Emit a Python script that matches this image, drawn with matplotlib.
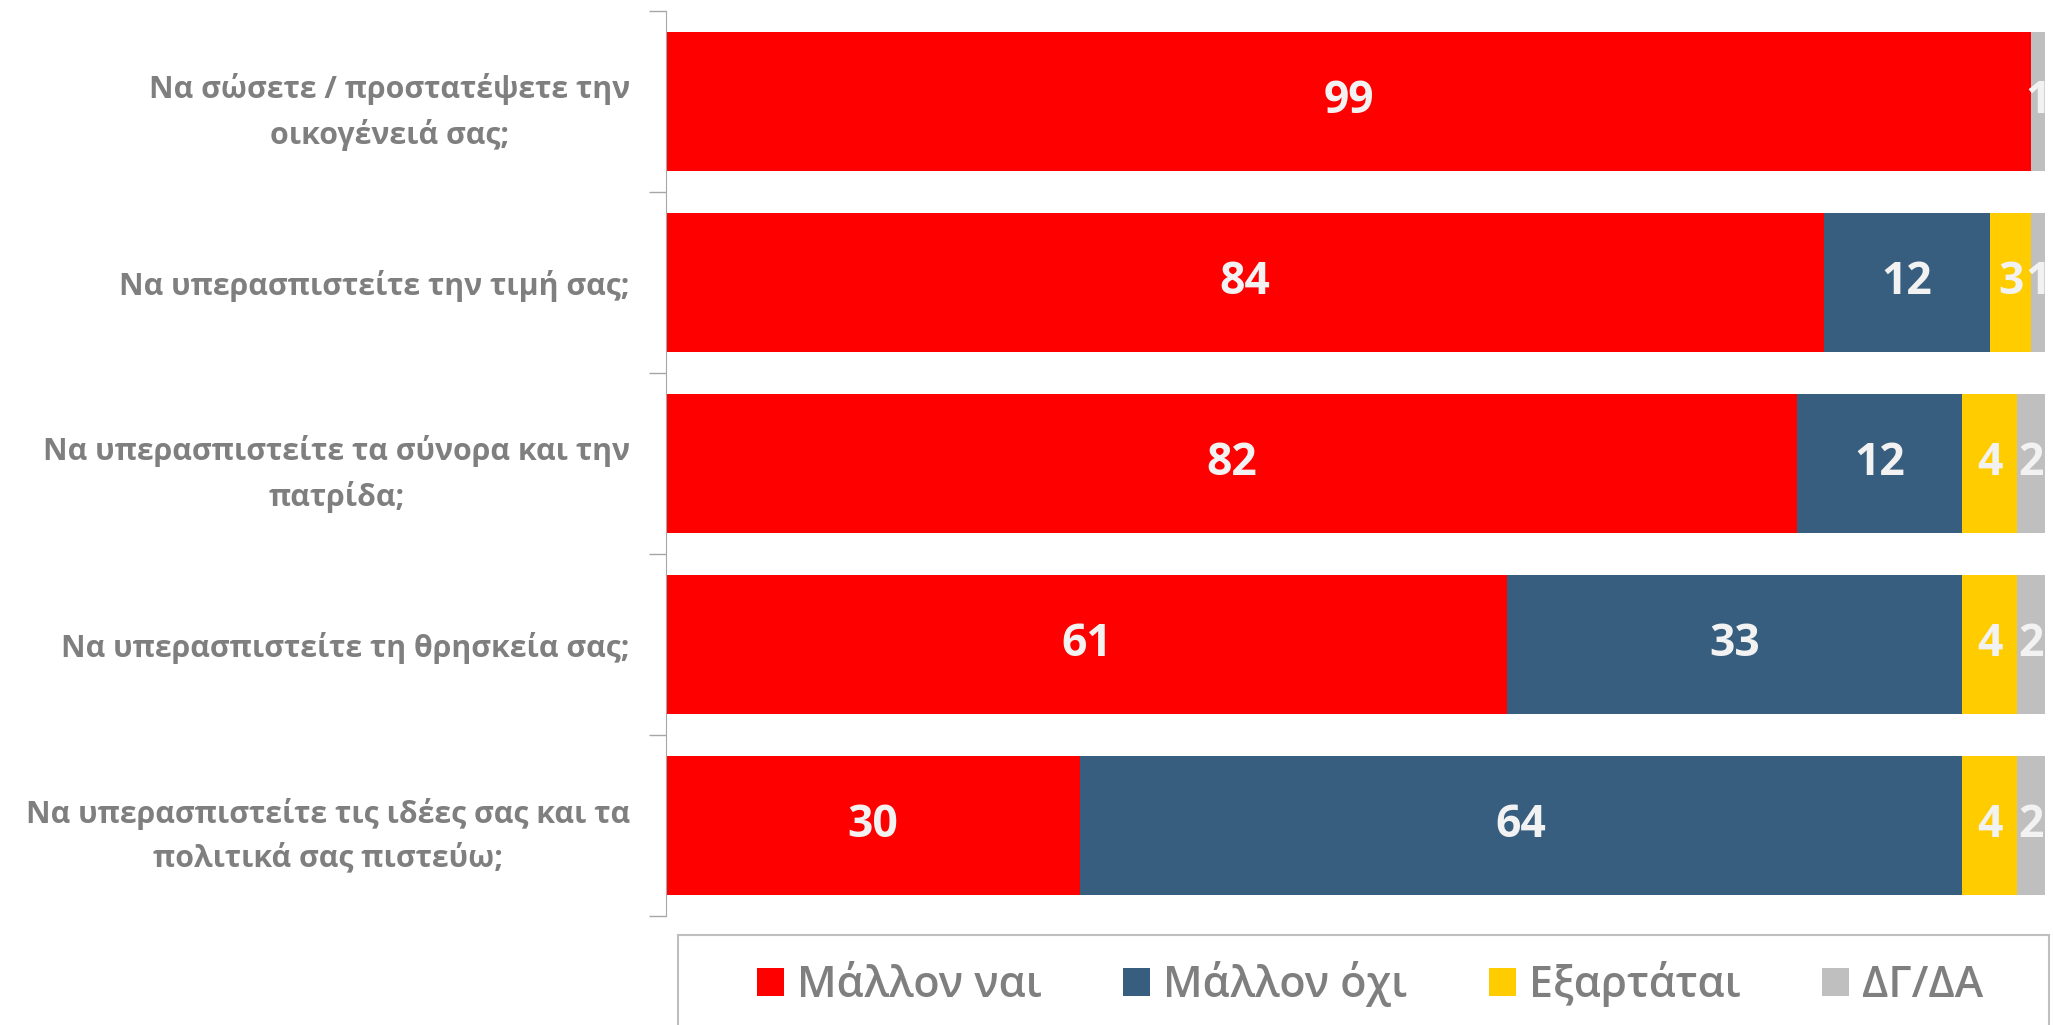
import matplotlib.pyplot as plt
from matplotlib.patches import Patch, Rectangle
import numpy as np

plt.rcParams['font.family'] = ['Open Sans', 'DejaVu Sans']

# data
questions = [
    'Να σώσετε / προστατέψετε την\nοικογένειά σας;',
    'Να υπερασπιστείτε την τιμή σας;',
    'Να υπερασπιστείτε τα σύνορα και την\nπατρίδα;',
    'Να υπερασπιστείτε τη θρησκεία σας;',
    'Να υπερασπιστείτε τις ιδέες σας και τα\nπολιτικά σας πιστεύω;',
]
series_names = ['Μάλλον ναι', 'Μάλλον όχι', 'Εξαρτάται', 'ΔΓ/ΔΑ']
mallon_nai = [99, 84, 82, 61, 30]
mallon_oxi = [0, 12, 12, 33, 64]
eksartatai = [0, 3, 4, 4, 4]
dg_da = [1, 1, 2, 2, 2]

colors = ['#FF0000', '#375E7F', '#FFCC00', '#BFBFBF']
label_color = '#7F7F7F'

fig = plt.figure(figsize=(20.53, 10.25), dpi=100)
ax = fig.add_axes([666/2053, 1-916/1025, 1379/2053, 905/1025])

y = np.arange(len(questions))
left = np.zeros(len(questions))
handles = []
for name, vals, c in zip(series_names, [mallon_nai, mallon_oxi, eksartatai, dg_da], colors):
    bars = ax.barh(y, vals, left=left, height=0.77, color=c, label=name)
    labels = [str(v) if v > 0 else '' for v in vals]
    ax.bar_label(bars, labels=labels, label_type='center', color='#F2F2F2',
                 fontsize=32, fontweight='bold')
    left += np.array(vals)
    handles.append(Patch(facecolor=c, edgecolor='none', label=name))

ax.set_xlim(0, 100)
ax.set_ylim(len(questions)-0.5, -0.5)
ax.set_xticks([])
ax.set_yticks(y)
ax.set_yticklabels(questions, fontsize=21.8, fontweight='bold', color=label_color,
                   multialignment='center', linespacing=1.55)
ax.tick_params(axis='y', which='major', length=0, pad=26)
ax.set_yticks(np.arange(len(questions)+1)-0.5, minor=True)
ax.tick_params(axis='y', which='minor', length=12, color='#A6A6A6', width=1)
for s in ['top', 'right', 'bottom']:
    ax.spines[s].set_visible(False)
ax.spines['left'].set_color('#A6A6A6')

# legend box
fig.patches.append(Rectangle((678/2053, -0.02), (2049-678)/2053, (1025-935)/1025+0.02,
                             transform=fig.transFigure, fill=False,
                             edgecolor='#BFBFBF', linewidth=1.5))
fig.legend(handles=handles, loc='center', bbox_to_anchor=(1370/2053, 1-984/1025),
           ncol=4, frameon=False, labelcolor=label_color,
           prop={'size': 31, 'weight': 'semibold'},
           handlelength=0.62, handleheight=0.62, handletextpad=0.3, columnspacing=1.9)

fig.savefig('out.png', dpi=100)
